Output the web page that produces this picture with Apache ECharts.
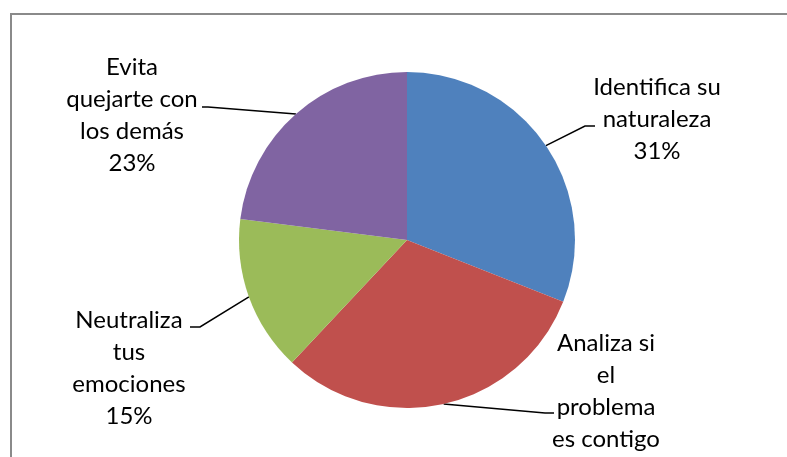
<!DOCTYPE html>
<html>
<head>
<meta charset="utf-8">
<script src="https://cdn.jsdelivr.net/npm/echarts@6/dist/echarts.min.js"></script>
<style>
  html, body { margin: 0; padding: 0; background: #ffffff; }
  #chart { width: 787px; height: 457px; }
</style>
</head>
<body>
<div id="chart"></div>
<script>
// Slice names and their shares (percent)
const categories = [
  'Identifica su\nnaturaleza',
  'Analiza si\nel\nproblema\nes contigo',
  'Neutraliza\ntus\nemociones',
  'Evita\nquejarte con\nlos demás'
];
const shares = [31, 31, 15, 23];
const sliceColors = ['#4F81BD', '#C0504D', '#9BBB59', '#8064A2'];

// Where each text block sits (centre x, top y) and how its leader line bends
const labelBoxes = [
  { x: 657, y: 71 },
  { x: 606, y: 327 },
  { x: 129, y: 304 },
  { x: 132, y: 51 }
];
const leaderBends = [
  [[585, 126], [595, 126]],
  [[545, 413], [554, 413]],
  [[200, 327], [190, 327]],
  [[208, 107], [202, 107]]
];

const chart = echarts.init(document.getElementById('chart'));

chart.setOption({
  animation: false,
  backgroundColor: '#ffffff',
  graphic: [{
    type: 'rect',
    silent: true,
    z: -1,
    shape: { x: 11, y: 14, width: 820, height: 500 },
    style: { fill: null, stroke: '#8a8a8a', lineWidth: 2 }
  }],
  series: [{
    type: 'pie',
    center: [407, 240],
    radius: 168,
    startAngle: 90,
    clockwise: true,
    data: categories.map((name, i) => ({
      name: name,
      value: shares[i],
      itemStyle: { color: sliceColors[i] }
    })),
    itemStyle: { borderWidth: 0 },
    emphasis: { disabled: true },
    label: {
      show: true,
      position: 'outside',
      formatter: '{b}\n{c}%',
      fontFamily: 'Lato',
      fontSize: 24,
      lineHeight: 32,
      color: '#000000',
      align: 'center'
    },
    labelLine: {
      show: true,
      length: 20,
      length2: 10,
      lineStyle: { color: '#000000', width: 1.5 }
    },
    labelLayout: function (params) {
      const i = params.dataIndex;
      const start = params.labelLinePoints ? params.labelLinePoints[0] : null;
      const out = {
        x: labelBoxes[i].x,
        y: labelBoxes[i].y,
        align: 'center',
        verticalAlign: 'top'
      };
      if (start) {
        out.labelLinePoints = [start, leaderBends[i][0], leaderBends[i][1]];
      }
      return out;
    }
  }]
});
</script>
</body>
</html>
